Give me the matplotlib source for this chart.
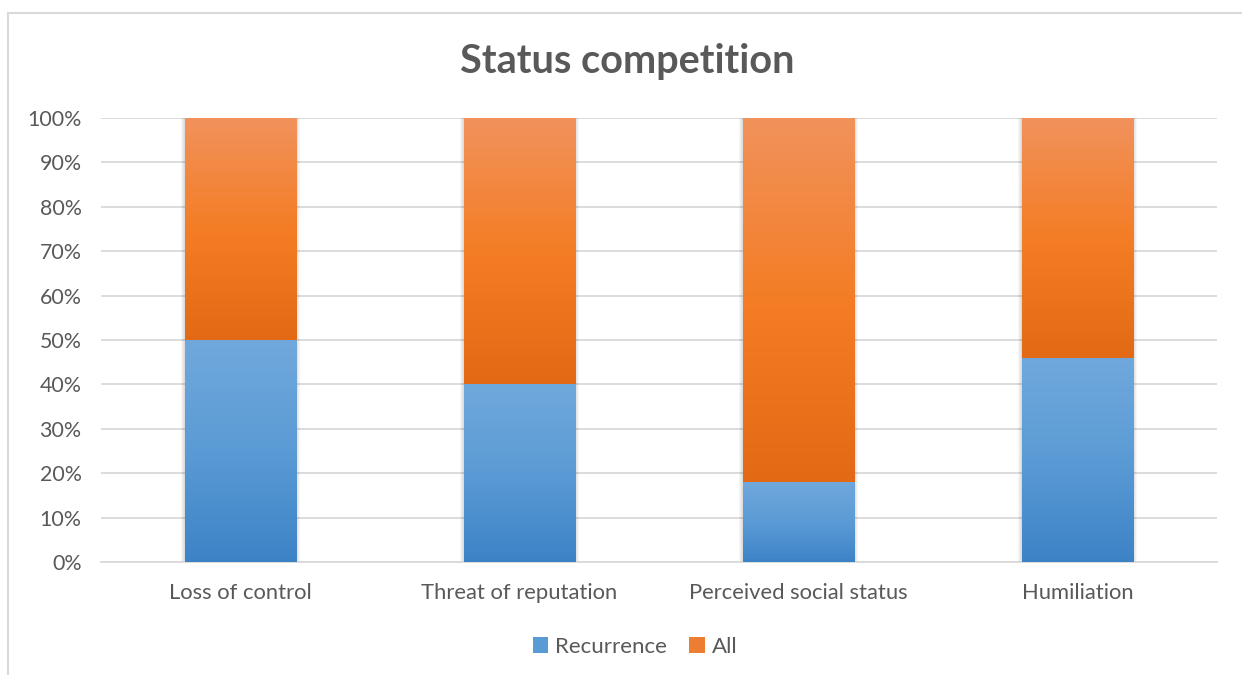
import matplotlib
matplotlib.use("Agg")
import matplotlib.pyplot as plt
import numpy as np
from matplotlib.colors import LinearSegmentedColormap
from matplotlib.patches import Rectangle, Patch

categories = ["Loss of control", "Threat of reputation", "Perceived social status", "Humiliation"]
recurrence = [50, 40, 18, 46]
all_vals = [50, 60, 82, 54]
series_names = ["Recurrence", "All"]
yticks = [0, 10, 20, 30, 40, 50, 60, 70, 80, 90, 100]
ytick_labels = [f"{v}%" for v in yticks]
title = "Status competition"

W, H = 1242, 675
fig = plt.figure(figsize=(W / 100, H / 100), dpi=100)
plt.rcParams['font.family'] = ['Lato', 'DejaVu Sans']

# chart frame
fig.patches.append(Rectangle((8 / W, -0.1), 1.2, 1 - 13 / H + 0.1, transform=fig.transFigure,
                             fill=False, edgecolor="#d9d9d9", linewidth=1.5))

ax = fig.add_axes([101 / W, (H - 562) / H, 1116 / W, 444 / H])
x = np.arange(len(categories))

blue_cmap = LinearSegmentedColormap.from_list("b", ["#3c83c6", "#5b9bd5", "#70a8dc"])
orange_cmap = LinearSegmentedColormap.from_list("o", ["#e36a14", "#f47d25", "#f1925c"])

width = 0.40
# soft shadows
for k in range(1, 5):
    ax.bar(x, 100, width + 0.006 * k, color="#000000", alpha=0.035, zorder=1.5, linewidth=0)

bars_b = ax.bar(x, recurrence, width, color="#5b9bd5", zorder=2, label=series_names[0], linewidth=0)
bars_o = ax.bar(x, all_vals, width, bottom=recurrence, color="#ed7d31", zorder=2, label=series_names[1], linewidth=0)

grad = np.linspace(0, 1, 256).reshape(-1, 1)
for bars, cmap in ((bars_b, blue_cmap), (bars_o, orange_cmap)):
    for p in bars:
        x0, y0 = p.get_x(), p.get_y()
        im = ax.imshow(grad, cmap=cmap, origin="lower", aspect="auto",
                       extent=[x0, x0 + p.get_width(), y0, y0 + p.get_height()],
                       interpolation="bilinear", zorder=3)
        im.set_clip_path(p)
ax.set_xlim(-0.5, len(categories) - 0.5)
ax.set_ylim(0, 100)

ax.set_yticks(yticks)
ax.set_yticklabels(ytick_labels)
ax.set_xticks(x)
ax.set_xticklabels(categories)
ax.grid(axis="y", color="#d9d9d9", linewidth=1.3, zorder=0)
ax.set_axisbelow(True)
for s in ["top", "right", "left"]:
    ax.spines[s].set_visible(False)
ax.spines["bottom"].set_color("#d9d9d9")
ax.spines["bottom"].set_linewidth(1.3)
ax.tick_params(axis="both", length=0, labelsize=15.8, colors="#595959")
ax.tick_params(axis="y", labelsize=15.4, pad=14)
ax.tick_params(axis="x", pad=15)

fig.text(627 / W, 1 - 62 / H, title, ha="center", va="center", fontsize=28.5,
         fontweight="bold", color="#595959")

handles = [Patch(facecolor="#5b9bd5"), Patch(facecolor="#ed7d31")]
fig.legend(handles, series_names, loc="center", bbox_to_anchor=(635 / W, 1 - 647 / H),
           ncol=2, frameon=False, fontsize=16, labelcolor="#595959",
           handlelength=0.7, handleheight=0.7, handletextpad=0.3, columnspacing=1.0)

fig.savefig("out.png", dpi=100, facecolor="white")
